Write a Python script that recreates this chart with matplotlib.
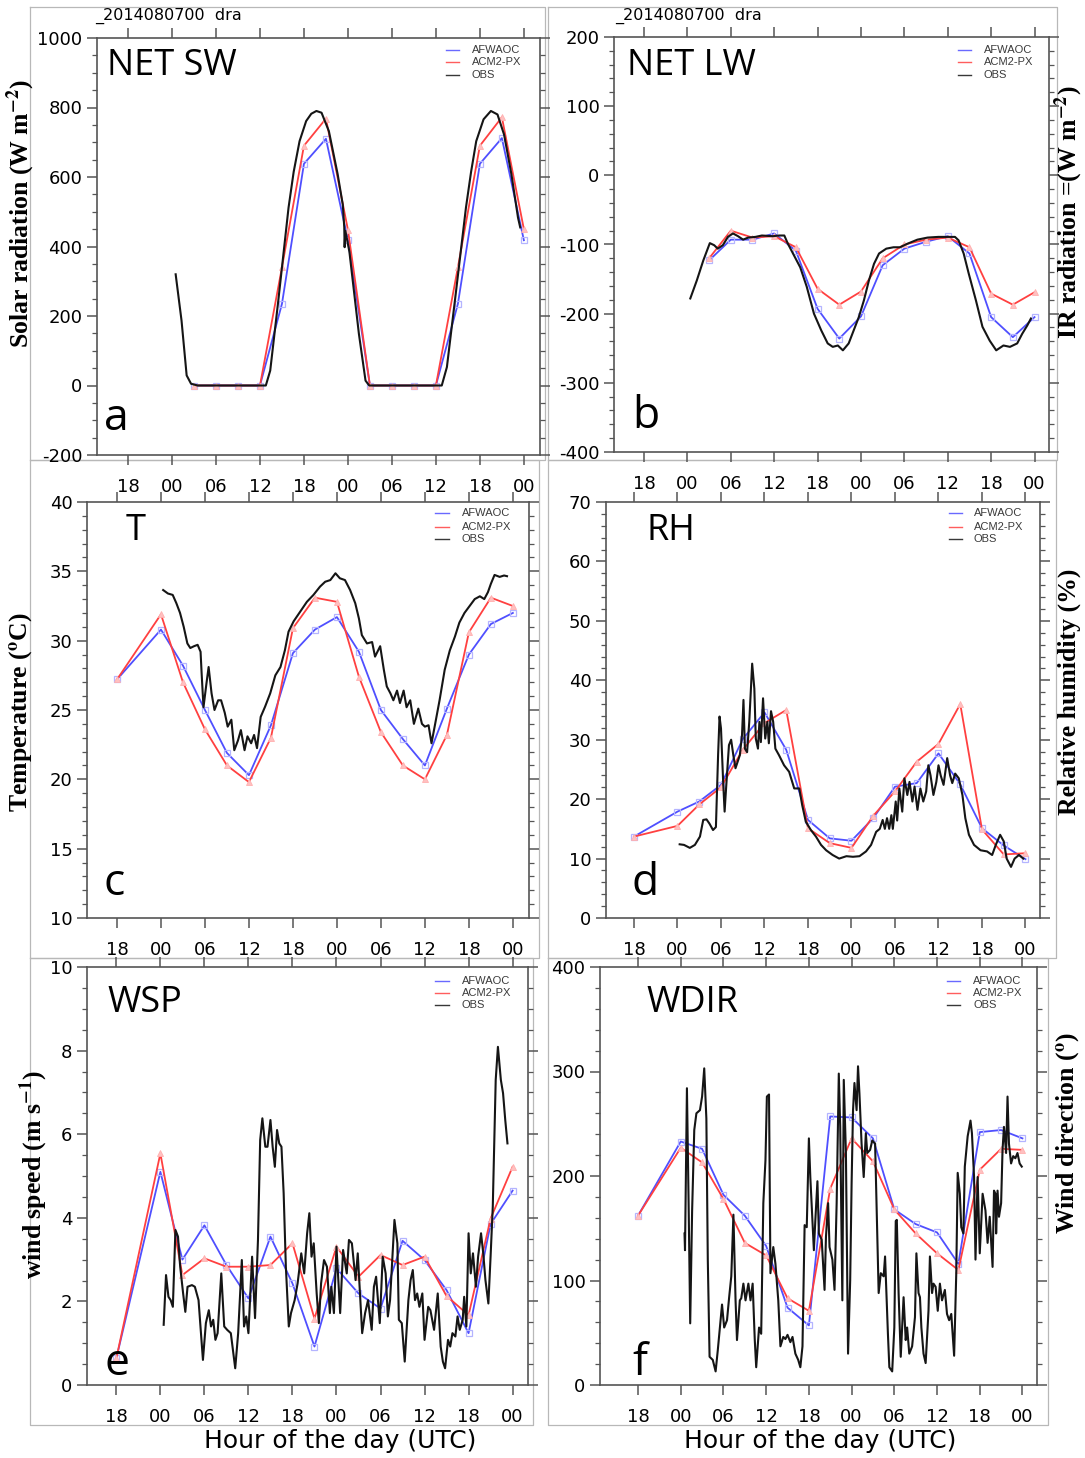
import matplotlib
matplotlib.use("Agg")
import matplotlib.pyplot as plt
from matplotlib.ticker import MultipleLocator
from matplotlib.lines import Line2D

plt.rcParams["axes.unicode_minus"] = False
plt.rcParams["mathtext.fontset"] = "stix"

W, H = 1085, 1458

# x axis: hours since 18 UTC of the first day
hour_ticks = [0, 6, 12, 18, 24, 30, 36, 42, 48, 54]
hour_labels = ["18", "00", "06", "12", "18", "00", "06", "12", "18", "00"]

# model output times
hrs_rad = [9, 12, 15, 18, 21, 24, 27, 30, 33, 36, 39, 42, 45, 48, 51, 54]
hrs_met = [0, 6, 9, 12, 15, 18, 21, 24, 27, 30, 33, 36, 39, 42, 45, 48, 51, 54]

# ---- (a) net shortwave, W m-2
sw_afwaoc = [0, 0, 0, 0, 235, 638, 710, 418, 0, 0, 0, 0, 235, 638, 712, 418]
sw_acm2 = [0, 0, 0, 0, 340, 690, 768, 448, 0, 0, 0, 0, 340, 690, 772, 450]
sw_obs = [(6.5, 320), (7.3, 187), (8.0, 29), (8.6, 5), (9.5, 0), (12, 0), (15, 0),
          (18.8, 0), (19.4, 43), (20.5, 244), (21.9, 512), (22.6, 615), (23.4, 703),
          (24.3, 761), (25.0, 782), (25.7, 790), (26.4, 785), (27.4, 732), (28.6, 608),
          (29.3, 520), (29.5, 455), (29.55, 398), (29.65, 445), (30.2, 385), (31.5, 148),
          (32.4, 14), (32.9, 0), (36, 0), (39, 0), (42.8, 0), (43.5, 53), (44.7, 263),
          (46.1, 512), (46.8, 615), (47.5, 703), (48.5, 766), (49.5, 790), (50.4, 780),
          (51.3, 722), (52.3, 608), (53.2, 483), (53.5, 455)]

# ---- (b) net longwave, W m-2
lw_afwaoc = [-123, -93, -93, -84, -109, -193, -236, -204, -130, -106, -96, -88,
             -113, -205, -234, -205]
lw_acm2 = [-120, -80, -90, -88, -104, -164, -187, -168, -120, -100, -93, -90,
           -104, -171, -187, -169]
lw_obs = [(6.4, -178), (7.3, -152), (8.2, -123), (9.1, -98), (9.7, -101), (10.2, -106),
          (10.9, -101), (11.6, -89), (12.3, -84), (13.0, -88), (13.7, -93), (14.4, -90),
          (15.4, -89), (16.3, -87), (17.8, -88), (18.7, -87), (19.4, -87), (19.9, -99),
          (20.6, -113), (21.6, -133), (22.5, -161), (23.5, -200), (24.5, -224),
          (25.4, -243), (26.1, -248), (26.8, -246), (27.5, -253), (28.3, -243),
          (29.0, -224), (29.7, -205), (30.4, -181), (31.1, -152), (31.8, -128),
          (32.5, -113), (33.5, -106), (34.5, -104), (35.4, -104), (36.4, -99),
          (37.8, -93), (39.2, -90), (40.7, -89), (42.1, -89), (43.0, -89), (43.5, -94),
          (44.2, -113), (44.9, -142), (45.9, -181), (46.8, -219), (47.8, -239),
          (48.7, -253), (49.7, -246), (50.6, -248), (51.6, -243), (52.3, -229),
          (53.0, -217), (53.5, -207)]

# ---- (c) 2 m temperature, degC
t_afwaoc = [27.2, 30.8, 28.2, 25.0, 21.9, 20.3, 23.9, 29.1, 30.8, 31.7, 29.2, 25.0,
            22.9, 21.0, 25.1, 29.0, 31.2, 32.0]
t_acm2 = [27.2, 31.9, 27.0, 23.6, 21.0, 19.8, 23.0, 30.9, 33.1, 32.8, 27.4, 23.4,
          21.0, 20.0, 23.2, 30.6, 33.1, 32.5]
t_obs = [(6.3, 33.65), (6.95, 33.4), (7.6, 33.3), (8.1, 32.7), (8.6, 32.0), (9.1, 31.0),
         (9.6, 29.8), (10.0, 29.47), (10.5, 29.6), (11.0, 29.7), (11.4, 29.2),
         (11.55, 27.6), (11.8, 25.2), (12.2, 26.9), (12.5, 28.1), (12.9, 26.2),
         (13.3, 25.0), (13.8, 25.7), (14.2, 25.7), (14.7, 24.8), (15.1, 23.8),
         (15.6, 24.3), (16.0, 22.1), (16.5, 22.8), (16.9, 23.55), (17.4, 22.1),
         (17.8, 23.1), (18.3, 22.6), (18.7, 23.2), (19.1, 22.25), (19.6, 24.5),
         (20.2, 25.24), (20.9, 26.2), (21.6, 27.5), (22.3, 28.1), (22.9, 29.3),
         (23.4, 30.65), (24.1, 31.4), (25.0, 32.1), (25.9, 32.8), (26.8, 33.3),
         (27.7, 33.9), (28.4, 34.25), (29.1, 34.37), (29.8, 34.86), (30.4, 34.5),
         (31.1, 34.37), (31.8, 33.65), (32.5, 32.7), (33.0, 31.6), (33.4, 30.4),
         (34.1, 29.8), (34.8, 29.9), (35.2, 28.85), (35.9, 29.6), (36.4, 27.9),
         (36.8, 26.7), (37.3, 26.2), (37.7, 25.7), (38.2, 26.4), (38.6, 25.5),
         (39.1, 26.4), (39.5, 25.2), (40.0, 25.7), (40.5, 24.0), (41.1, 25.1),
         (41.6, 24.0), (42.0, 23.8), (42.5, 23.9), (42.9, 22.6), (43.4, 24.0),
         (44.0, 25.7), (44.7, 27.9), (45.4, 29.3), (46.1, 30.3), (46.7, 31.3),
         (47.4, 32.0), (48.1, 32.5), (48.8, 33.0), (49.5, 33.2), (50.1, 33.0),
         (50.6, 33.5), (51.0, 34.1), (51.5, 34.74), (52.2, 34.6), (52.8, 34.7),
         (53.2, 34.65)]

# ---- (d) relative humidity, %
rh_afwaoc = [13.7, 17.9, 19.6, 22.4, 30.1, 34.6, 28.3, 16.5, 13.4, 13.0, 16.8, 22.1,
             22.7, 27.7, 22.5, 15.1, 12.2, 9.9]
rh_acm2 = [13.7, 15.5, 19.1, 22.0, 28.3, 32.8, 35.0, 15.1, 12.6, 11.8, 17.2, 21.3,
           26.3, 29.3, 36.0, 14.9, 10.7, 10.9]
rh_obs = [(6.3, 12.4), (6.9, 12.3), (7.7, 11.8), (8.4, 12.3), (9.1, 13.7), (9.55, 16.5),
          (10.0, 16.6), (10.4, 15.9), (10.9, 14.8), (11.3, 15.3), (11.6, 27.4),
          (11.8, 33.9), (12.0, 31.9), (12.3, 22.9), (12.5, 17.9), (12.7, 21.8),
          (13.1, 29.1), (13.4, 30.0), (13.7, 27.4), (14.0, 25.2), (14.3, 26.3),
          (14.6, 27.4), (14.9, 30.8), (15.1, 36.7), (15.3, 28.5), (15.6, 27.9),
          (15.9, 33.0), (16.3, 42.8), (16.6, 38.6), (16.8, 30.2), (17.1, 28.5),
          (17.3, 33.0), (17.5, 29.6), (17.8, 36.97), (18.1, 30.2), (18.4, 33.0),
          (18.6, 29.4), (18.9, 34.8), (19.2, 33.0), (19.5, 28.5), (20.0, 27.4),
          (20.7, 25.7), (21.4, 24.6), (22.1, 21.8), (22.8, 21.8), (23.2, 19.0),
          (23.7, 16.2), (24.4, 14.8), (25.1, 13.7), (25.8, 12.3), (26.5, 11.4),
          (27.4, 10.6), (28.3, 10.0), (29.3, 10.4), (30.2, 10.3), (31.1, 10.4),
          (32.0, 11.2), (32.7, 12.3), (33.4, 14.5), (33.9, 15.0), (34.3, 16.5),
          (34.6, 15.0), (34.9, 16.8), (35.2, 15.0), (35.5, 17.3), (35.7, 15.0),
          (36.1, 19.6), (36.3, 16.4), (36.6, 21.8), (37.0, 17.9), (37.3, 23.5),
          (37.7, 20.7), (38.0, 22.9), (38.4, 19.6), (38.7, 22.1), (39.1, 18.2),
          (39.5, 21.8), (39.9, 19.6), (40.3, 21.3), (40.6, 25.7), (40.9, 24.0),
          (41.3, 20.7), (41.7, 22.9), (42.0, 25.7), (42.3, 24.0), (42.7, 22.4),
          (43.2, 26.9), (43.6, 24.0), (43.9, 22.7), (44.3, 24.3), (44.8, 23.5),
          (45.3, 20.7), (45.7, 16.8), (46.2, 14.0), (46.9, 12.3), (47.8, 11.4),
          (48.7, 11.2), (49.4, 10.6), (49.9, 12.3), (50.5, 14.0), (51.0, 12.9),
          (51.4, 10.0), (52.0, 8.6), (52.5, 10.0), (53.1, 10.6), (53.7, 10.0)]

# ---- (e) wind speed, m s-1
ws_afwaoc = [0.64, 5.10, 3.00, 3.82, 2.87, 2.07, 3.55, 2.43, 0.92, 2.79, 2.19, 1.83,
             3.45, 2.99, 2.27, 1.24, 3.85, 4.65]
ws_acm2 = [0.64, 5.54, 2.63, 3.03, 2.83, 2.83, 2.87, 3.39, 1.59, 3.31, 2.59, 3.11,
           2.87, 3.07, 2.13, 1.67, 3.98, 5.22]
ws_obs = [(6.45, 1.44), (6.77, 2.63), (7.1, 2.11), (7.4, 2.03), (7.7, 1.87), (8.05, 3.71),
          (8.4, 3.55), (8.7, 2.83), (9.1, 2.19), (9.4, 1.75), (9.7, 2.35), (10.3, 2.39),
          (10.7, 2.35), (11.2, 2.03), (11.6, 1.08), (11.8, 0.6), (12.2, 1.48),
          (12.6, 1.79), (12.9, 1.40), (13.2, 1.56), (13.5, 1.08), (13.8, 1.24),
          (14.3, 2.67), (14.7, 1.40), (15.1, 1.32), (15.6, 1.24), (16.2, 0.4),
          (16.6, 1.24), (17.1, 2.99), (17.4, 1.40), (17.7, 1.64), (18.0, 1.24),
          (18.5, 3.07), (18.9, 1.60), (19.3, 3.47), (19.6, 5.86), (19.9, 6.38),
          (20.3, 5.7), (20.6, 5.7), (21.0, 6.34), (21.3, 5.7), (21.6, 5.22), (21.9, 6.1),
          (22.2, 5.78), (22.5, 5.7), (22.8, 4.59), (23.1, 2.83), (23.5, 1.40),
          (23.8, 1.72), (24.3, 2.03), (24.7, 2.43), (25.2, 3.15), (25.6, 2.67),
          (26.0, 3.63), (26.3, 4.11), (26.6, 3.07), (26.9, 3.39), (27.3, 2.19),
          (27.6, 1.48), (27.9, 2.43), (28.3, 2.99), (28.7, 2.83), (29.1, 1.72),
          (29.3, 2.35), (29.65, 1.72), (30.0, 3.31), (30.5, 1.72), (30.9, 3.23),
          (31.4, 2.67), (31.7, 3.47), (32.1, 3.39), (32.6, 2.51), (32.9, 3.15),
          (33.2, 2.19), (33.5, 1.24), (33.9, 1.72), (34.3, 2.03), (34.8, 1.32),
          (35.1, 2.35), (35.4, 2.59), (35.9, 1.48), (36.3, 3.07), (36.7, 2.67),
          (37.0, 1.64), (37.3, 2.03), (37.9, 3.95), (38.3, 3.39), (38.5, 1.56),
          (38.9, 1.48), (39.3, 0.56), (39.8, 2.03), (40.1, 2.51), (40.4, 2.75),
          (40.7, 2.03), (41.0, 2.19), (41.3, 1.87), (41.7, 2.19), (42.0, 1.08),
          (42.5, 1.87), (42.8, 1.79), (43.3, 1.32), (43.8, 2.19), (44.2, 0.92),
          (44.5, 0.56), (44.8, 0.4), (45.2, 1.08), (45.5, 0.92), (45.8, 1.24),
          (46.2, 1.16), (46.5, 1.64), (46.8, 1.32), (47.2, 1.56), (47.4, 2.11),
          (47.7, 1.40), (48.0, 3.63), (48.3, 2.67), (48.6, 3.15), (49.0, 2.35),
          (49.3, 3.07), (49.7, 3.63), (50.0, 3.15), (50.3, 2.51), (50.7, 1.95),
          (51.0, 3.07), (51.3, 4.27), (51.7, 7.3), (52.0, 8.09), (52.4, 7.3),
          (52.7, 6.98), (53.0, 6.34), (53.3, 5.78)]

# ---- (f) wind direction, degrees
wd_afwaoc = [162, 233, 226, 182, 162, 133, 74, 57, 257, 256, 236, 168, 154, 146, 116,
             242, 244, 236]
wd_acm2 = [162, 227, 213, 178, 136, 124, 83, 71, 188, 236, 214, 168, 145, 126, 110,
           206, 226, 225]
wd_obs = [(6.53, 145), (6.6, 129), (6.87, 284), (7.1, 177), (7.33, 59), (7.6, 167),
          (7.9, 244), (8.2, 260), (8.7, 263), (9.0, 276), (9.3, 303), (9.6, 255),
          (9.8, 120), (10.05, 27), (10.5, 24), (10.9, 13), (11.2, 33), (11.6, 62),
          (11.8, 77), (12.1, 55), (12.5, 62), (12.8, 84), (13.1, 104), (13.4, 163),
          (13.7, 81), (13.9, 43), (14.3, 81), (14.5, 83), (14.8, 97), (15.1, 81),
          (15.5, 97), (15.8, 81), (16.1, 97), (16.4, 43), (16.6, 17), (17.0, 55),
          (17.3, 49), (17.6, 174), (17.9, 215), (18.1, 276), (18.4, 278), (18.6, 107),
          (19.0, 132), (19.3, 116), (19.7, 81), (20.0, 37), (20.4, 46), (20.7, 44),
          (21.0, 48), (21.4, 41), (21.7, 46), (22.1, 30), (22.5, 24), (22.8, 17),
          (23.1, 37), (23.4, 153), (23.7, 151), (24.0, 236), (24.2, 199), (24.5, 157),
          (24.7, 129), (24.9, 157), (25.2, 195), (25.4, 145), (25.8, 139), (26.2, 91),
          (26.4, 142), (26.7, 174), (26.9, 132), (27.3, 120), (27.6, 91), (27.9, 174),
          (28.2, 298), (28.4, 247), (28.7, 81), (28.9, 292), (29.2, 222), (29.5, 30),
          (29.8, 100), (30.0, 193), (30.2, 263), (30.4, 289), (30.7, 263), (30.9, 305),
          (31.1, 279), (31.4, 231), (31.7, 199), (32.0, 241), (32.2, 222), (32.6, 225),
          (32.9, 234), (33.3, 231), (33.5, 174), (33.8, 88), (34.1, 107), (34.5, 104),
          (34.7, 123), (35.1, 49), (35.3, 17), (35.7, 13), (36.0, 55), (36.2, 157),
          (36.35, 158), (36.6, 88), (36.9, 27), (37.3, 84), (37.6, 43), (37.8, 55),
          (38.1, 30), (38.5, 37), (38.9, 65), (39.1, 126), (39.4, 88), (39.6, 84),
          (39.8, 55), (40.1, 30), (40.4, 21), (40.8, 71), (41.0, 123), (41.3, 88),
          (41.5, 97), (41.8, 94), (42.1, 71), (42.4, 97), (42.7, 81), (43.1, 91),
          (43.4, 68), (43.7, 62), (44.0, 68), (44.4, 28), (44.7, 107), (44.9, 203),
          (45.2, 183), (45.4, 151), (45.7, 145), (45.9, 209), (46.3, 238), (46.7, 253),
          (46.9, 241), (47.2, 199), (47.4, 120), (47.7, 199), (48.0, 126), (48.4, 183),
          (48.8, 167), (49.1, 136), (49.4, 161), (49.8, 113), (50.0, 186), (50.2, 183),
          (50.3, 145), (50.5, 186), (50.7, 161), (51.0, 174), (51.2, 225), (51.4, 247),
          (51.7, 222), (51.9, 276), (52.1, 231), (52.4, 212), (52.7, 219), (53.0, 217),
          (53.3, 222), (53.6, 212), (53.9, 209)]

SERIES_NAMES = ["AFWAOC", "ACM2-PX", "OBS"]
BLUE, RED, BLACK = "#4f4fff", "#ff4040", "#151515"

fig = plt.figure(figsize=(W / 100, H / 100), dpi=100)


def fx(x):
    return x / W


def fy(y):
    return 1 - y / H


def make_axes(l, r, t, b):
    return fig.add_axes([fx(l), fy(b), fx(r) - fx(l), (b - t) / H])


def draw_panel(ax, xlim, ylim, ymaj, ymin, hrs, afw, acm, obs):
    ox = [p[0] for p in obs]
    oy = [p[1] for p in obs]
    ax.plot(hrs, afw, color=BLUE, lw=1.3, marker="s", ms=4.5, mfc="none",
            mec="#b4b4ff", mew=0.9, zorder=3)
    ax.plot(hrs, acm, color=RED, lw=1.3, marker="^", ms=4.0, mfc="#ffc0c0",
            mec="#ffb0b0", mew=0.6, zorder=3)
    ax.plot(ox, oy, color=BLACK, lw=1.5, zorder=4)
    ax.set_xlim(*xlim)
    ax.set_ylim(*ylim)
    ax.set_xticks(hour_ticks)
    ax.set_xticklabels(hour_labels)
    ax.yaxis.set_major_locator(MultipleLocator(ymaj))
    ax.yaxis.set_minor_locator(MultipleLocator(ymin))
    ax.tick_params(which="both", direction="out", top=True, right=True,
                   labeltop=False, labelright=False, color="#555555",
                   labelsize=13)
    ax.tick_params(which="major", length=7.5, width=1.1)
    ax.tick_params(which="minor", length=3.5, width=0.9)
    ax.tick_params(axis="x", pad=9)
    ax.tick_params(axis="y", pad=3)
    for lab in ax.get_xticklabels() + ax.get_yticklabels():
        lab.set_fontfamily("DejaVu Sans")
    for sp in ax.spines.values():
        sp.set_color("#555555")
        sp.set_linewidth(1.2)


def legend_block(x0, x1, xt, ys):
    for name, col, y in zip(SERIES_NAMES, [BLUE, RED, BLACK], ys):
        fig.add_artist(Line2D([fx(x0), fx(x1)], [fy(y), fy(y)], color=col, lw=1.0,
                              alpha=0.85, transform=fig.transFigure))
        fig.text(fx(xt), fy(y), name, fontsize=8, color="#3a3a3a",
                 family="Liberation Sans", va="center", ha="left")


def panel_text(x, y, s, size):
    fig.text(fx(x), fy(y), s, fontsize=size, family="Open Sans",
             va="baseline", ha="left", color="black")


def ylabel(x, y, s):
    fig.text(fx(x), fy(y), s, rotation=90, fontsize=18.5, family="Liberation Serif",
             fontweight="bold", va="center", ha="center")


# panel frames
frame_col = "#b8b8b8"
frames = [(30, 7, 545, 460), (548, 7, 1057, 460), (30, 460, 539, 958),
          (548, 460, 1056, 958), (30, 958, 533, 1425), (548, 958, 1048, 1425)]
for (l, t, r, b) in frames:
    fig.add_artist(Line2D([fx(l), fx(r), fx(r), fx(l), fx(l)],
                          [fy(t), fy(t), fy(b), fy(b), fy(t)], color=frame_col,
                          lw=0.9, transform=fig.transFigure, zorder=0))

# (a)
ax_a = make_axes(97, 540, 38, 455)
draw_panel(ax_a, (-4.23, 56.2), (-200, 1000), 200, 50, hrs_rad, sw_afwaoc, sw_acm2, sw_obs)
# (b)
ax_b = make_axes(614, 1049, 37, 452)
draw_panel(ax_b, (-4.15, 56.0), (-400, 200), 100, 20, hrs_rad, lw_afwaoc, lw_acm2, lw_obs)
# (c)
ax_c = make_axes(87, 529, 502, 918)
draw_panel(ax_c, (-4.09, 56.2), (10, 40), 5, 1, hrs_met, t_afwaoc, t_acm2, t_obs)
# (d)
ax_d = make_axes(606, 1040, 502, 918)
draw_panel(ax_d, (-3.86, 56.0), (0, 70), 10, 2, hrs_met, rh_afwaoc, rh_acm2, rh_obs)
# (e)
ax_e = make_axes(87, 528, 967, 1385)
draw_panel(ax_e, (-4.0, 56.1), (0, 10), 2, 0.5, hrs_met, ws_afwaoc, ws_acm2, ws_obs)
# (f)
ax_f = make_axes(600, 1037, 967, 1385)
draw_panel(ax_f, (-5.34, 56.04), (0, 400), 100, 20, hrs_met, wd_afwaoc, wd_acm2, wd_obs)

# run identifier above the top row
fig.text(fx(95), fy(16), "_2014080700  dra", fontsize=11.5, family="DejaVu Sans",
         va="center", ha="left")
fig.text(fx(615), fy(16), "_2014080700  dra", fontsize=11.5, family="DejaVu Sans",
         va="center", ha="left")

# legends
legend_block(446, 459, 472, [50, 62, 75])
legend_block(958, 971, 984, [50, 62, 75])
legend_block(435, 449, 462, [513, 527, 539])
legend_block(949, 962, 974, [513, 527, 539])
legend_block(435, 449, 462, [981, 993, 1005])
legend_block(947, 960, 973, [981, 993, 1005])

# variable names and panel letters
panel_text(107, 75, "NET SW", 26)
panel_text(627, 75, "NET LW", 26)
panel_text(126, 540, "T", 26)
panel_text(646, 540, "RH", 26)
panel_text(107, 1012, "WSP", 26)
panel_text(646, 1012, "WDIR", 26)
panel_text(104, 430, "a", 32)
panel_text(632, 428, "b", 32)
panel_text(103, 895, "c", 32)
panel_text(632, 895, "d", 32)
panel_text(104, 1375, "e", 32)
panel_text(632, 1375, "f", 32)

# axis titles
ylabel(21, 214, "Solar radiation (W m$^{\\mathbf{-2}}$)")
ylabel(1069, 212, "IR radiation =(W m$^{\\mathbf{-2}}$)")
ylabel(22, 712, "Temperature ($^{\\mathbf{o}}$C)")
ylabel(1069, 692, "Relative humidity (%)")
ylabel(34, 1175, "wind speed (m s$^{\\mathbf{-1}}$)")
ylabel(1069, 1133, "Wind direction ($^{\\mathbf{o}}$)")

fig.text(fx(340), fy(1441), "Hour of the day (UTC)", fontsize=18, family="DejaVu Sans",
         va="center", ha="center")
fig.text(fx(820), fy(1441), "Hour of the day (UTC)", fontsize=18, family="DejaVu Sans",
         va="center", ha="center")

fig.savefig("out.png", dpi=100, facecolor="white")
